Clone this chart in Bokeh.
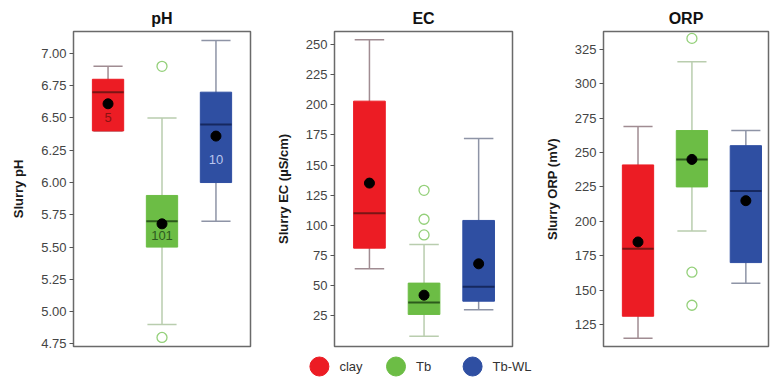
from bokeh.plotting import figure
from bokeh.layouts import column, row
from bokeh.models import Range1d, FixedTicker, FactorRange, NumeralTickFormatter
from bokeh.embed import file_html
from bokeh.resources import INLINE
from bokeh.core.properties import value

# Slurry groups
groups = ["clay", "Tb", "Tb-WL"]
fill_colors = ["#ec1c24", "#6cbd45", "#2f4fa2"]
median_colors = ["#7a1515", "#2c5a1c", "#16285f"]
whisker_colors = ["#a08c92", "#b9cdae", "#8e94a6"]
outlier_color = "#94d07a"

# pH summary statistics (whisker low, Q1, median, Q3, whisker high, mean)
ph_low = [6.40, 4.90, 5.70]
ph_q1 = [6.40, 5.50, 6.00]
ph_med = [6.70, 5.70, 6.45]
ph_q3 = [6.80, 5.90, 6.70]
ph_high = [6.90, 6.50, 7.10]
ph_mean = [6.61, 5.68, 6.36]
ph_n = ["5", "101", "10"]
ph_n_colors = ["#8a1212", "#2d5a1e", "#b9c6ee"]
ph_out_group = ["Tb", "Tb"]
ph_out_val = [6.90, 4.80]
ph_ticks = [4.75, 5.00, 5.25, 5.50, 5.75, 6.00, 6.25, 6.50, 6.75, 7.00]

# EC summary statistics (uS/cm)
ec_low = [64, 8, 30]
ec_q1 = [81, 26, 37]
ec_med = [110, 36, 49]
ec_q3 = [203, 52, 104]
ec_high = [254, 84, 172]
ec_mean = [135, 42, 68]
ec_out_group = ["Tb", "Tb", "Tb"]
ec_out_val = [129, 105, 92]
ec_ticks = [25, 50, 75, 100, 125, 150, 175, 200, 225, 250]

# ORP summary statistics (mV)
orp_low = [115, 193, 155]
orp_q1 = [131, 225, 170]
orp_med = [180, 245, 222]
orp_q3 = [241, 266, 255]
orp_high = [269, 316, 266]
orp_mean = [185, 245, 215]
orp_out_group = ["Tb", "Tb", "Tb"]
orp_out_val = [333, 163, 139]
orp_ticks = [125, 150, 175, 200, 225, 250, 275, 300, 325]

FONT = "Liberation Sans"
BOX_W = 0.58
CAP_W = 0.54
pos = {g: i + 1 for i, g in enumerate(groups)}


def panel(title, ylabel, low, q1, med, q3, high, mean, out_g, out_v,
          ticks, fmt, yrange, xend, width, left, right):
    p = figure(width=width, height=350, output_backend="svg", toolbar_location=None,
               x_range=Range1d(0.36, xend), y_range=Range1d(*yrange),
               x_axis_location=None, min_border_left=left, min_border_right=right,
               min_border_top=31, min_border_bottom=4, title=title)
    p.title.align = "center"
    p.title.text_font = FONT
    p.title.text_font_size = "16px"
    p.title.text_font_style = "bold"
    p.title.text_color = "#111111"
    p.xgrid.visible = False
    p.ygrid.visible = False
    p.outline_line_color = "#6a6a6a"
    p.outline_line_width = 1.5
    p.background_fill_color = "white"
    p.border_fill_color = "white"

    ax = p.yaxis[0]
    ax.ticker = FixedTicker(ticks=ticks)
    ax.formatter = NumeralTickFormatter(format=fmt)
    ax.axis_line_color = None
    ax.major_tick_in = 0
    ax.major_tick_out = 4
    ax.major_tick_line_color = "#555555"
    ax.minor_tick_line_color = None
    ax.major_label_text_font = FONT
    ax.major_label_text_font_size = "13px"
    ax.major_label_text_color = "#444444"
    ax.major_label_standoff = 3
    ax.axis_label = ylabel
    ax.axis_label_text_font = FONT
    ax.axis_label_text_font_size = "13px"
    ax.axis_label_text_font_style = "bold"
    ax.axis_label_text_color = "#1a1a1a"
    ax.axis_label_standoff = 12

    xs = [pos[g] for g in groups]
    # whisker stems and caps
    p.segment(x0=xs, y0=low, x1=xs, y1=high, line_color=whisker_colors, line_width=1.5)
    for lv in (low, high):
        p.segment(x0=[x - CAP_W / 2 for x in xs], y0=lv, x1=[x + CAP_W / 2 for x in xs],
                  y1=lv, line_color=whisker_colors, line_width=1.5)
    # boxes
    p.vbar(x=xs, width=BOX_W, bottom=q1, top=q3, fill_color=fill_colors,
           line_color=fill_colors, line_width=1)
    # medians
    p.segment(x0=[x - BOX_W / 2 for x in xs], y0=med, x1=[x + BOX_W / 2 for x in xs],
              y1=med, line_color=median_colors, line_width=2)
    # outliers
    p.scatter(x=[pos[g] for g in out_g], y=out_v, size=10, fill_color=None,
              line_color=outlier_color, line_width=1.3)
    # means
    p.scatter(x=xs, y=mean, size=10, fill_color="black", line_color="black")
    return p


p1 = panel("pH", "Slurry pH", ph_low, ph_q1, ph_med, ph_q3, ph_high, ph_mean,
           ph_out_group, ph_out_val, ph_ticks, "0.00", (4.73, 7.17), 3.64, 255, 73, 5)
# sample sizes inside the pH boxes
n_y = [(a + b) / 2 for a, b in zip(ph_q1, ph_mean)]
p1.text(x=[pos[g] for g in groups], y=n_y, text=ph_n, text_color=ph_n_colors,
        text_align="center", text_baseline="middle", text_font=value(FONT),
        text_font_size="13px")

p2 = panel("EC", "Slurry EC (\u00b5S/cm)", ec_low, ec_q1, ec_med, ec_q3, ec_high, ec_mean,
           ec_out_group, ec_out_val, ec_ticks, "0", (-0.6, 260.8), 3.62, 261, 79, 4)

p3 = panel("ORP", "Slurry ORP (mV)", orp_low, orp_q1, orp_med, orp_q3, orp_high, orp_mean,
           orp_out_group, orp_out_val, orp_ticks, "0", (109, 338), 3.42, 255, 87, 3)

# legend strip: one factor slot per group, padded so the last label fits
leg = figure(width=771, height=32, output_backend="svg", toolbar_location=None,
             x_range=FactorRange(*groups, range_padding=1, range_padding_units="absolute"),
             y_range=Range1d(-1, 1),
             x_axis_location=None, y_axis_location=None,
             min_border_left=204, min_border_right=184, min_border_top=0,
             min_border_bottom=0)
leg.outline_line_color = None
leg.xgrid.visible = False
leg.ygrid.visible = False
leg.scatter(x=groups, y=[0] * len(groups), size=19, fill_color=fill_colors,
            line_color=fill_colors)
leg.text(x=groups, y=[0] * len(groups), text=groups, x_offset=20,
         text_baseline="middle", text_align="left", text_font=value(FONT),
         text_font_size="13px", text_color="#333333")

layout = column(row(p1, p2, p3, spacing=0), leg, spacing=0)
open("out.html", "w").write(file_html(layout, INLINE))
